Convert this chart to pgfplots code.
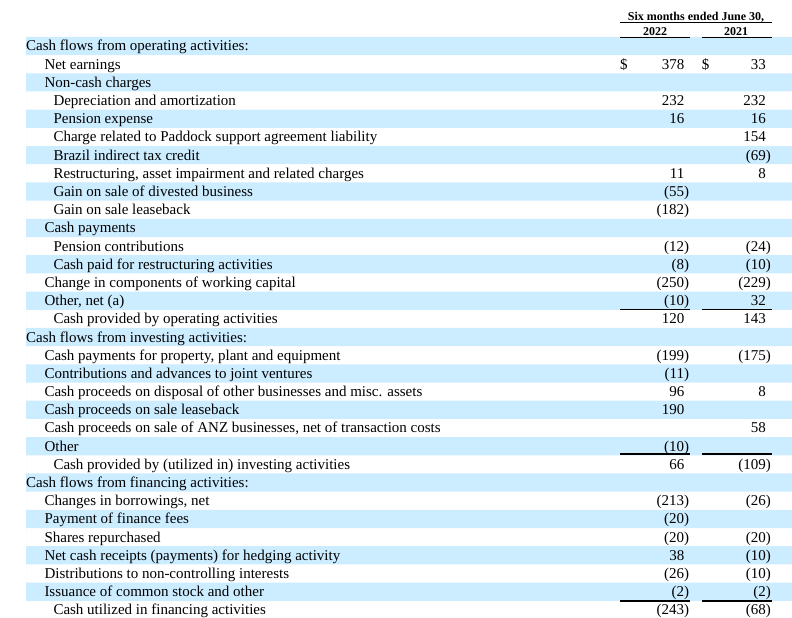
\documentclass[border=0pt]{standalone}
\usepackage{pgfplots}
\usepackage{pgfplotstable}
\pgfplotsset{compat=1.18}
\usepackage{fontspec}
\setmainfont{Liberation Serif}
\definecolor{shade}{RGB}{204,236,255}
\newcommand{\fs}{\fontsize{15bp}{17bp}\selectfont}

\pgfplotstableread[col sep=semicolon]{
x;y;t
26;51.0;Cash flows from operating activities:
44.3;69.19;Net earnings
44.3;87.38;Non-cash charges
53.3;105.57;Depreciation and amortization
53.3;123.76;Pension expense
53.3;141.95;Charge related to Paddock support agreement liability
53.3;160.14;Brazil indirect tax credit
53.3;178.33;Restructuring, asset impairment and related charges
53.3;196.52;Gain on sale of divested business
53.3;214.71;Gain on sale leaseback
44.3;232.90;Cash payments
53.3;251.09;Pension contributions
53.3;269.28;Cash paid for restructuring activities
44.3;287.47;Change in components of working capital
44.3;305.66;Other, net (a)
53.3;323.85;Cash provided by operating activities
26;342.04;Cash flows from investing activities:
44.3;360.23;Cash payments for property, plant and equipment
44.3;378.42;Contributions and advances to joint ventures
44.3;396.61;Cash proceeds on disposal of other businesses and misc. assets
44.3;414.80;Cash proceeds on sale leaseback
44.3;432.99;Cash proceeds on sale of ANZ businesses, net of transaction costs
44.3;451.18;Other
53.3;469.37;Cash provided by (utilized in) investing activities
26;487.56;Cash flows from financing activities:
44.3;505.75;Changes in borrowings, net
44.3;523.94;Payment of finance fees
44.3;542.13;Shares repurchased
44.3;560.32;Net cash receipts (payments) for hedging activity
44.3;578.51;Distributions to non-controlling interests
44.3;596.70;Issuance of common stock and other
53.3;614.89;Cash utilized in financing activities
}\labels

\pgfplotstableread[col sep=semicolon]{
x;y;t
684.5;69.19;378
766;69.19;33
684.5;105.57;232
766;105.57;232
684.5;123.76;16
766;123.76;16
766;141.95;154
771;160.14;(69)
684.5;178.33;11
766;178.33;8
689.3;196.52;(55)
689.3;214.71;(182)
689.3;251.09;(12)
771;251.09;(24)
689.3;269.28;(8)
771;269.28;(10)
689.3;287.47;(250)
771;287.47;(229)
689.3;305.66;(10)
766;305.66;32
684.5;323.85;120
766;323.85;143
689.3;360.23;(199)
771;360.23;(175)
689.3;378.42;(11)
684.5;396.61;96
766;396.61;8
684.5;414.80;190
766;432.99;58
689.3;451.18;(10)
684.5;469.37;66
771;469.37;(109)
689.3;505.75;(213)
771;505.75;(26)
689.3;523.94;(20)
689.3;542.13;(20)
771;542.13;(20)
684.5;560.32;38
771;560.32;(10)
689.3;578.51;(26)
771;578.51;(10)
689.3;596.70;(2)
771;596.70;(2)
689.3;614.89;(243)
771;614.89;(68)
}\numbers

\begin{document}
\begin{tikzpicture}
\begin{axis}[
  width=792bp, height=618bp, scale only axis,
  xmin=0, xmax=792, ymin=0, ymax=618, y dir=reverse,
  hide axis, clip=false,
]
% shaded bands
\addplot[fill=shade, draw=none, mark=none] coordinates {
(26,36.9)(792,36.9)(792,55.1)(26,55.1)
(26,73.28)(792,73.28)(792,91.48)(26,91.48)
(26,109.66)(792,109.66)(792,127.86)(26,127.86)
(26,146.04)(792,146.04)(792,164.24)(26,164.24)
(26,182.42)(792,182.42)(792,200.62)(26,200.62)
(26,218.8)(792,218.8)(792,237.0)(26,237.0)
(26,255.18)(792,255.18)(792,273.38)(26,273.38)
(26,291.56)(792,291.56)(792,309.76)(26,309.76)
(26,327.94)(792,327.94)(792,346.14)(26,346.14)
(26,364.32)(792,364.32)(792,382.52)(26,382.52)
(26,400.7)(792,400.7)(792,418.9)(26,418.9)
(26,437.08)(792,437.08)(792,455.28)(26,455.28)
(26,473.46)(792,473.46)(792,491.66)(26,491.66)
(26,509.84)(792,509.84)(792,528.04)(26,528.04)
(26,546.22)(792,546.22)(792,564.42)(26,564.42)
(26,582.6)(792,582.6)(792,600.8)(26,600.8)
};
% row labels
\addplot[black, draw=none, mark=none, nodes near coords, point meta=explicit symbolic,
  nodes near coords style={font=\fs, anchor=base west, inner sep=0pt, black}]
  table[x=x, y=y, meta=t]{\labels};
% values
\addplot[black, draw=none, mark=none, nodes near coords, point meta=explicit symbolic,
  nodes near coords style={font=\fs, anchor=base east, inner sep=0pt, black}]
  table[x=x, y=y, meta=t]{\numbers};
% dollar signs
\addplot[black, draw=none, mark=none, nodes near coords, point meta=explicit symbolic,
  nodes near coords style={font=\fs, anchor=base west, inner sep=0pt, black}]
  coordinates {(620,69.19)[\$] (701.7,69.19)[\$]};
% rules
\addplot[black, line width=1.5bp, mark=none] coordinates {(620,22.7)(772,22.7)};
\addplot[black, line width=1.5bp, mark=none] coordinates {(620,37.7)(690,37.7)};
\addplot[black, line width=1.5bp, mark=none] coordinates {(702,37.7)(772,37.7)};
\addplot[black, line width=1.5bp, mark=none] coordinates {(620,309.3)(690,309.3)};
\addplot[black, line width=1.5bp, mark=none] coordinates {(702,309.3)(772,309.3)};
\addplot[black, line width=1.5bp, mark=none] coordinates {(620,454)(690,454)};
\addplot[black, line width=1.5bp, mark=none] coordinates {(702,454)(772,454)};
\addplot[black, line width=1.5bp, mark=none] coordinates {(620,601)(690,601)};
\addplot[black, line width=1.5bp, mark=none] coordinates {(702,601)(772,601)};
% header
\node[font=\fontsize{12bp}{14bp}\selectfont\bfseries, anchor=base, inner sep=0pt] at (axis cs:696,20.5) {Six months ended June 30,};
\node[font=\fontsize{12bp}{14bp}\selectfont\bfseries, anchor=base, inner sep=0pt] at (axis cs:655,35.3) {2022};
\node[font=\fontsize{12bp}{14bp}\selectfont\bfseries, anchor=base, inner sep=0pt] at (axis cs:736,35.3) {2021};
\end{axis}
\pgfresetboundingbox
\useasboundingbox (0,0) rectangle (792bp,618bp);
\end{tikzpicture}
\end{document}
